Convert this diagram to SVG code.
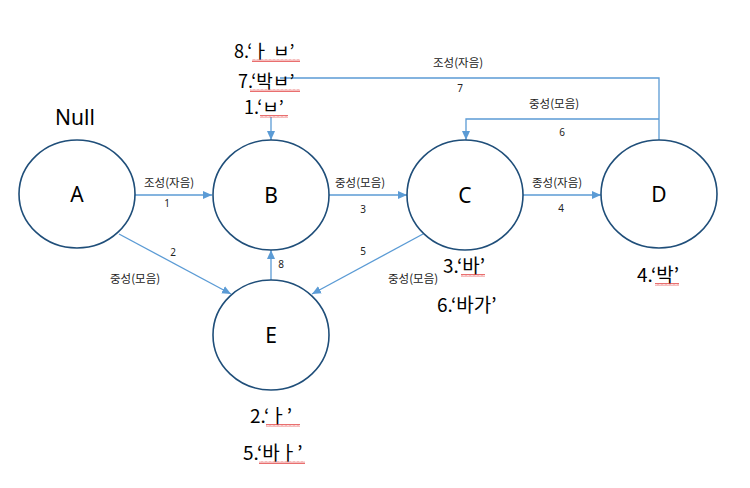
<svg xmlns="http://www.w3.org/2000/svg" width="750" height="488" viewBox="0 0 750 488">
<style>
.node{fill:#ffffff;stroke:#1f4e79;stroke-width:1.6}
.nl{font-family:"Noto Sans","Noto Sans CJK KR",sans-serif;font-size:21px;fill:#000;text-anchor:middle}
.big{font-family:"Noto Sans CJK KR","Noto Sans",sans-serif;font-size:19px;fill:#000}
.bs{font-size:18px}
.sm{font-family:"Noto Sans CJK KR","Noto Sans",sans-serif;font-size:11.5px;fill:#222}
.num{font-family:"Noto Sans","Liberation Sans",sans-serif;font-size:10px;fill:#222;text-anchor:middle}
.edge{fill:none;stroke:#5b9bd5;stroke-width:1.3}
</style>
<defs>
<marker id="arr" markerWidth="10" markerHeight="10" refX="9" refY="5" orient="auto" markerUnits="userSpaceOnUse">
<path d="M0,1 L9,5 L0,9 Z" fill="#5b9bd5"/>
</marker>
<pattern id="sq" width="4" height="3" patternUnits="userSpaceOnUse">
<path d="M0,2.5 L1,0.5 L2,2.5 L3,0.5 L4,2.5" fill="none" stroke="#e03030" stroke-width="0.7"/>
</pattern>
</defs>
<rect width="750" height="488" fill="#ffffff"/>

<g id="connectors">
<line class="edge" x1="134" y1="195" x2="212" y2="195" marker-end="url(#arr)"/>
<line class="edge" x1="329" y1="195" x2="407" y2="195" marker-end="url(#arr)"/>
<line class="edge" x1="523" y1="195" x2="601" y2="195" marker-end="url(#arr)"/>
<line class="edge" x1="119" y1="234" x2="231" y2="294" marker-end="url(#arr)"/>
<line class="edge" x1="423" y1="234" x2="312" y2="294" marker-end="url(#arr)"/>
<line class="edge" x1="271" y1="280" x2="271" y2="250" marker-end="url(#arr)"/>
<line class="edge" x1="271" y1="117" x2="271" y2="140" marker-end="url(#arr)"/>
<polyline class="edge" points="280,78 659,78 659,140"/>
<polyline class="edge" points="659,119 466,119 466,140" marker-end="url(#arr)"/>
<text class="sm" x="144" y="187">조성(자음)</text>
<text class="num" x="167" y="207">1</text>
<text class="sm" x="335" y="187">중성(모음)</text>
<text class="num" x="363" y="213">3</text>
<text class="sm" x="532" y="187">종성(자음)</text>
<text class="num" x="561" y="212">4</text>
<text class="num" x="173" y="256">2</text>
<text class="sm" x="110" y="283">중성(모음)</text>
<text class="num" x="363" y="255">5</text>
<text class="sm" x="388" y="283">중성(모음)</text>
<text class="num" x="281" y="268">8</text>
<text class="sm" x="433" y="67">조성(자음)</text>
<text class="num" x="460" y="92">7</text>
<text class="sm" x="529" y="108">중성(모음)</text>
<text class="num" x="562" y="136">6</text>
</g>

<g id="node-A">
<ellipse class="node" cx="77" cy="194" rx="58" ry="54"/>
<text class="nl" x="77" y="202">A</text>
<text class="nl" x="75" y="125">Null</text>
</g>
<g id="node-B">
<ellipse class="node" cx="271" cy="195" rx="58" ry="55"/>
<text class="nl" x="271" y="203">B</text>
<text class="big bs" x="234" y="58">8.‘ㅏ ㅂ’</text>
<text class="big bs" x="238" y="88">7.‘박ㅂ’</text>
<text class="big bs" x="244" y="114">1.‘ㅂ’</text>
<rect x="252" y="59" width="48" height="3" fill="url(#sq)"/>
<rect x="250" y="89" width="50" height="3" fill="url(#sq)"/>
<rect x="260" y="115" width="28" height="3" fill="url(#sq)"/>
</g>
<g id="node-C">
<ellipse class="node" cx="465" cy="195" rx="58" ry="55"/>
<text class="nl" x="465" y="203">C</text>
<text class="big" x="443" y="273">3.‘바’</text>
<text class="big" x="437" y="312">6.‘바가’</text>
<rect x="461" y="274" width="24" height="3" fill="url(#sq)"/>
</g>
<g id="node-D">
<ellipse class="node" cx="659" cy="194" rx="58" ry="54"/>
<text class="nl" x="659" y="202">D</text>
<text class="big" x="637" y="282">4.‘박’</text>
<rect x="655" y="283" width="24" height="3" fill="url(#sq)"/>
</g>
<g id="node-E">
<ellipse class="node" cx="271" cy="335" rx="58" ry="55"/>
<text class="nl" x="271" y="343">E</text>
<text class="big" x="250" y="423">2.‘ㅏ’</text>
<text class="big" x="243" y="460">5.‘바ㅏ’</text>
<rect x="266" y="424" width="34" height="3" fill="url(#sq)"/>
<rect x="259" y="461" width="46" height="3" fill="url(#sq)"/>
</g>
</svg>
